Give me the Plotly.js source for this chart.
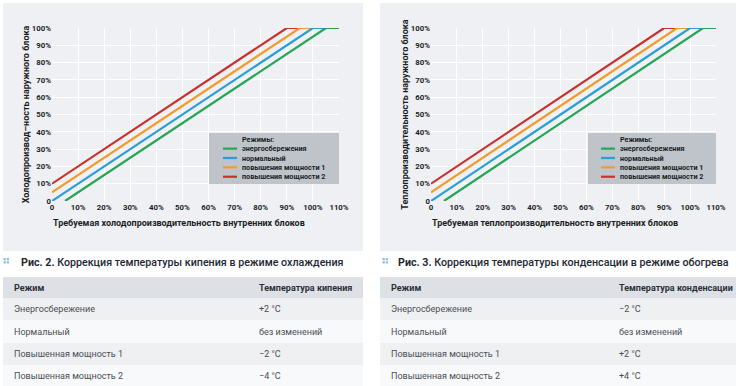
<!DOCTYPE html>
<html>
<head>
<meta charset="utf-8">
<script src="https://cdn.plot.ly/plotly-3.0.1.min.js"></script>
<style>html,body{margin:0;padding:0;background:#fff}#chart{width:746px;height:386px}</style>
</head>
<body>
<div id="chart"></div>
<script>
// ---- data ----
const xTickVals = [0, 10, 20, 30, 40, 50, 60, 70, 80, 90, 100, 110];
const xTickText = ['0', '10%', '20%', '30%', '40%', '50%', '60%', '70%', '80%', '90%', '100%', '110%'];
const yTickVals = [0, 10, 20, 30, 40, 50, 60, 70, 80, 90, 100];
const yTickText = ['0', '10%', '20%', '30%', '40%', '50%', '60%', '70%', '80%', '90%', '100%'];

const seriesNames = ['энергосбережения', 'нормальный', 'повышения мощности 1', 'повышения мощности 2'];
const seriesColors = ['#25a555', '#2a9dd8', '#f29b2c', '#c9302c'];

// cooling chart (Рис. 2)
const coolEcoX = [5, 105, 110],   coolEcoY = [0, 100, 100];
const coolNormX = [0, 100, 110],  coolNormY = [0, 100, 100];
const coolP1X = [0, 95, 110],     coolP1Y = [5, 100, 100];
const coolP2X = [0, 90, 110],     coolP2Y = [10, 100, 100];

// heating chart (Рис. 3)
const heatEcoX = [5, 105, 110],   heatEcoY = [0, 100, 100];
const heatNormX = [0, 100, 110],  heatNormY = [0, 100, 100];
const heatP1X = [0, 95, 110],     heatP1Y = [5, 100, 100];
const heatP2X = [0, 90, 110],     heatP2Y = [10, 100, 100];

const legendTitle = 'Режимы:';
const coolXTitle = 'Требуемая холодопроизводительность внутренних блоков';
const coolYTitle = 'Холодопроизвод–ность наружного блока';
const heatXTitle = 'Требуемая теплопроизводительность внутренних блоков';
const heatYTitle = 'Теплопроизводительность наружного блока';

const caption2Bold = 'Рис. 2.';
const caption2Text = 'Коррекция температуры кипения в режиме охлаждения';
const caption3Bold = 'Рис. 3.';
const caption3Text = 'Коррекция температуры конденсации в режиме обогрева';

const tableHeadMode = 'Режим';
const tableHeadBoil = 'Температура кипения';
const tableHeadCond = 'Температура конденсации';
const modes = ['Энергосбережение', 'Нормальный', 'Повышенная мощность 1', 'Повышенная мощность 2'];
const boilCorr = ['+2 °C', 'без изменений', '−2 °C', '−4 °C'];
const condCorr = ['−2 °C', 'без изменений', '+2 °C', '+4 °C'];

// ---- layout helpers ----
const W = 746, H = 386;
const px = x => x / W;
const py = y => 1 - y / H;
const FONT = 'Roboto, Liberation Sans, sans-serif';
const ink = '#1b1f24';

const coolSeries = [[coolEcoX, coolEcoY], [coolNormX, coolNormY], [coolP1X, coolP1Y], [coolP2X, coolP2Y]];
const heatSeries = [[heatEcoX, heatEcoY], [heatNormX, heatNormY], [heatP1X, heatP1Y], [heatP2X, heatP2Y]];

const traces = [];
// draw order: red first, green on top
[3, 2, 1, 0].forEach(i => {
  traces.push({type: 'scatter', mode: 'lines', x: coolSeries[i][0], y: coolSeries[i][1],
    name: seriesNames[i], line: {color: seriesColors[i], width: 2.2}, xaxis: 'x', yaxis: 'y',
    showlegend: false, hoverinfo: 'skip'});
});
[3, 2, 1, 0].forEach(i => {
  traces.push({type: 'scatter', mode: 'lines', x: heatSeries[i][0], y: heatSeries[i][1],
    name: seriesNames[i], line: {color: seriesColors[i], width: 2.2}, xaxis: 'x2', yaxis: 'y2',
    showlegend: false, hoverinfo: 'skip'});
});

function xAxis(x0, x1) {
  return {
    domain: [px(x0), px(x1)], range: [0, 110], tickmode: 'array', tickvals: xTickVals, ticktext: xTickText,
    showgrid: true, gridcolor: '#ffffff', gridwidth: 1, zeroline: false, showline: false, ticks: '',
    tickangle: 0, automargin: false,
    tickfont: {family: FONT, size: 7.8, color: ink, weight: 700}, fixedrange: true
  };
}
function yAxis(title, anchor) {
  return {
    domain: [py(201), py(28)], range: [0, 100], tickmode: 'array', tickvals: yTickVals, ticktext: yTickText,
    showgrid: true, gridcolor: '#ffffff', gridwidth: 1, zeroline: false, showline: false, ticks: '',
    automargin: false,
    tickfont: {family: FONT, size: 7.8, color: ink, weight: 700}, fixedrange: true, anchor: anchor,
    title: {text: title, font: {family: FONT, size: 9, color: ink, weight: 700}, standoff: 0}
  };
}

const shapes = [];
const annotations = [];
// panels
shapes.push({type: 'rect', xref: 'paper', yref: 'paper', x0: px(3), x1: px(363), y0: py(251), y1: py(3),
  fillcolor: '#eef0f3', line: {width: 0}, layer: 'below'});
shapes.push({type: 'rect', xref: 'paper', yref: 'paper', x0: px(380), x1: px(736), y0: py(251), y1: py(3),
  fillcolor: '#eef0f3', line: {width: 0}, layer: 'below'});

// x-axis titles, left-aligned with the plot area
function xTitle(axisId, text) {
  annotations.push({xref: axisId + ' domain', yref: 'paper', x: 0, y: py(223), xanchor: 'left', yanchor: 'middle',
    text: '<b>' + text + '</b>', showarrow: false, borderpad: 0, font: {family: FONT, size: 9, color: ink}});
}
xTitle('x', coolXTitle);
xTitle('x2', heatXTitle);

const LEG_FS = 7.2, LEG_LH = LEG_FS * 1.3, LEG_YC = 158;
function legend(bx0, bx1, tx, sx0, sx1) {
  shapes.push({type: 'rect', xref: 'paper', yref: 'paper', x0: px(bx0), x1: px(bx1), y0: py(184), y1: py(133),
    fillcolor: '#bfc4ca', line: {width: 0}, layer: 'above'});
  const lines = [legendTitle].concat(seriesNames).map(s => '<b>' + s + '</b>');
  annotations.push({xref: 'paper', yref: 'paper', x: px(tx), y: py(LEG_YC), xanchor: 'left', yanchor: 'middle',
    align: 'left', text: lines.join('<br>'), showarrow: false, borderpad: 0,
    font: {family: FONT, size: LEG_FS, color: ink}});
  seriesNames.forEach((n, i) => {
    const yr = LEG_YC + (i + 1 - 2) * LEG_LH;
    shapes.push({type: 'line', xref: 'paper', yref: 'paper', x0: px(sx0), x1: px(sx1), y0: py(yr), y1: py(yr),
      line: {color: seriesColors[i], width: 2.2}, layer: 'above'});
  });
}
legend(209, 339, 241, 223, 237);
legend(588, 716, 619, 601, 615);

function caption(iconX, textX, bold, text) {
  const c = '#8fc0df';
  [[0, 0], [3.2, 0], [0, 3.2], [3.2, 3.2]].forEach(d => {
    shapes.push({type: 'rect', xref: 'paper', yref: 'paper', x0: px(iconX + d[0]), x1: px(iconX + d[0] + 2.3),
      y0: py(258 + d[1] + 2.3), y1: py(258 + d[1]), fillcolor: c, line: {width: 0}});
  });
  annotations.push({xref: 'paper', yref: 'paper', x: px(textX), y: py(262), xanchor: 'left', yanchor: 'middle',
    text: '<b>' + bold + '</b> ' + text, showarrow: false, borderpad: 0,
    font: {family: FONT, size: 10.7, color: '#1d2833', weight: 500}});
}
caption(3.5, 20, caption2Bold, caption2Text);
caption(382.5, 397, caption3Bold, caption3Text);

// tables
const rowFills = ['#eef0f2', '#f8f9fa', '#eef0f2', '#f8f9fa'];
const rowTops = [298, 320, 343, 365];
const rowBottoms = [320, 343, 365, 386];
function table(x0, x1, t1, t2, head2, col2) {
  shapes.push({type: 'rect', xref: 'paper', yref: 'paper', x0: px(x0), x1: px(x1), y0: py(298), y1: py(277),
    fillcolor: '#dde1e6', line: {width: 0}});
  annotations.push({xref: 'paper', yref: 'paper', x: px(t1), y: py(287.5), xanchor: 'left', yanchor: 'middle',
    text: '<b>' + tableHeadMode + '</b>', showarrow: false, borderpad: 0, font: {family: FONT, size: 9, color: '#2b3036'}});
  annotations.push({xref: 'paper', yref: 'paper', x: px(t2), y: py(287.5), xanchor: 'left', yanchor: 'middle',
    text: '<b>' + head2 + '</b>', showarrow: false, borderpad: 0, font: {family: FONT, size: 9, color: '#2b3036'}});
  modes.forEach((m, i) => {
    shapes.push({type: 'rect', xref: 'paper', yref: 'paper', x0: px(x0), x1: px(x1), y0: py(rowBottoms[i]), y1: py(rowTops[i]),
      fillcolor: rowFills[i], line: {width: 0}});
    const yc = (rowTops[i] + rowBottoms[i]) / 2;
    annotations.push({xref: 'paper', yref: 'paper', x: px(t1), y: py(yc), xanchor: 'left', yanchor: 'middle',
      text: m, showarrow: false, borderpad: 0, font: {family: FONT, size: 9, color: '#4a4f55'}});
    annotations.push({xref: 'paper', yref: 'paper', x: px(t2), y: py(yc), xanchor: 'left', yanchor: 'middle',
      text: col2[i], showarrow: false, borderpad: 0, font: {family: FONT, size: 9, color: '#4a4f55'}});
  });
}
table(3, 363, 13, 258, tableHeadBoil, boilCorr);
table(380, 736, 390, 618, tableHeadCond, condCorr);

const layout = {
  width: W, height: H, margin: {l: 0, r: 0, t: 0, b: 0},
  paper_bgcolor: '#ffffff', plot_bgcolor: '#cdd2d8', showlegend: false,
  xaxis: xAxis(52, 339), yaxis: yAxis(coolYTitle, 'x'),
  xaxis2: Object.assign(xAxis(431, 716), {anchor: 'y2'}), yaxis2: yAxis(heatYTitle, 'x2'),
  shapes: shapes, annotations: annotations
};

Plotly.newPlot('chart', traces, layout, {staticPlot: true, displayModeBar: false});
</script>
</body>
</html>
